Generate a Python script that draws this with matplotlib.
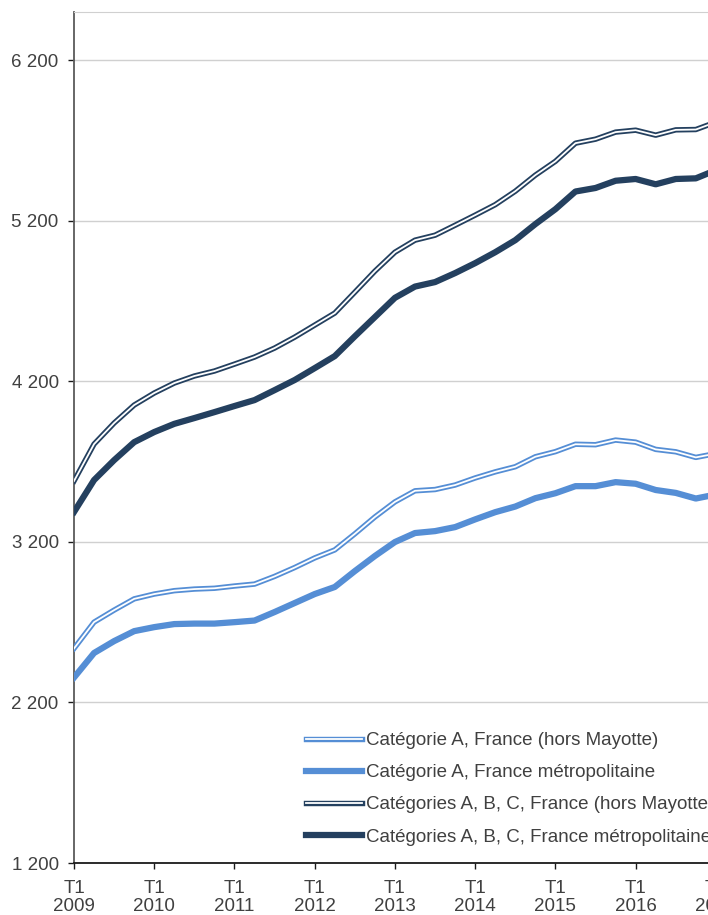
import matplotlib

matplotlib.use("Agg")
import matplotlib.pyplot as plt
import numpy as np
from matplotlib.lines import Line2D

# quarterly values, T1 2009 .. T1 2017 (thousands)
a_hors_mayotte = [2536, 2700, 2775, 2845, 2875, 2896, 2906, 2911, 2925, 2937, 2985,
                  3040, 3100, 3150, 3250, 3355, 3449, 3518, 3526, 3554, 3598, 3636,
                  3668, 3730, 3762, 3808, 3805, 3834, 3821, 3776, 3761, 3726, 3750]
a_metro = [2355, 2508, 2582, 2644, 2669, 2688, 2691, 2691, 2700, 2710, 2763,
           2819, 2875, 2919, 3018, 3112, 3199, 3255, 3267, 3292, 3340, 3385,
           3420, 3472, 3503, 3547, 3547, 3572, 3562, 3523, 3505, 3470, 3495]
abc_hors_mayotte = [3579, 3809, 3940, 4052, 4127, 4189, 4233, 4264, 4307, 4351, 4407,
                    4475, 4550, 4625, 4755, 4886, 5004, 5079, 5110, 5172, 5235, 5300,
                    5384, 5484, 5570, 5683, 5708, 5752, 5764, 5733, 5766, 5768, 5814]
abc_metro = [3386, 3585, 3709, 3821, 3884, 3935, 3971, 4008, 4046, 4083, 4145,
             4208, 4282, 4357, 4480, 4600, 4720, 4790, 4818, 4874, 4936, 5004,
             5079, 5179, 5272, 5382, 5404, 5449, 5460, 5427, 5460, 5464, 5515]

labels = [
    "Catégorie A, France (hors Mayotte)",
    "Catégorie A, France métropolitaine",
    "Catégories A, B, C, France (hors Mayotte)",
    "Catégories A, B, C, France métropolitaine",
]
years = list(range(2009, 2018))
tick_labels = [f"T1\n{y}" for y in years]
y_ticks = [1200, 2200, 3200, 4200, 5200, 6200]

LIGHT = "#558ed5"
DARK = "#24405f"
TEXT = "#404040"
FS = 13.5

plt.rcParams["font.family"] = ["Liberation Sans", "DejaVu Sans"]

fig = plt.figure(figsize=(7.08, 9.15), dpi=100)
ax = fig.add_axes([74 / 708, 52 / 915, 682 / 708, 851 / 915])

x = np.arange(len(a_metro))
OUTER, INNER, THICK = 3.9, 1.3, 4.5

ax.plot(x, a_hors_mayotte, color=LIGHT, lw=OUTER, zorder=3)
ax.plot(x, a_hors_mayotte, color="white", lw=INNER, zorder=4)
ax.plot(x, a_metro, color=LIGHT, lw=THICK, zorder=3)
ax.plot(x, abc_hors_mayotte, color=DARK, lw=OUTER, zorder=3)
ax.plot(x, abc_hors_mayotte, color="white", lw=INNER, zorder=4)
ax.plot(x, abc_metro, color=DARK, lw=THICK, zorder=3)

ax.set_xlim(0, 34)
ax.set_ylim(1200, 6500)
ax.set_xticks(np.arange(len(years)) * 4)
ax.set_xticklabels(tick_labels)
ax.set_yticks(y_ticks)
ax.set_yticklabels([f"{v // 1000} {v % 1000:03d}" for v in y_ticks])
ax.grid(axis="y", color="#d0d0d0", lw=1.0)
ax.set_axisbelow(True)

ax.spines["right"].set_visible(False)
ax.spines["top"].set_color("#d0d0d0")
ax.spines["left"].set_color("#5a5a5a")
ax.spines["left"].set_linewidth(1.3)
ax.spines["bottom"].set_color("#1a1a1a")
ax.spines["bottom"].set_linewidth(1.3)
ax.tick_params(axis="y", length=4, width=1.0, color="#1a1a1a", pad=7,
               labelsize=FS, labelcolor=TEXT)
ax.tick_params(axis="x", length=4, width=1.0, color="#1a1a1a", pad=8,
               labelsize=FS, labelcolor=TEXT)
for t in ax.get_xticklabels():
    t.set_linespacing(1.1)

handles = [
    (Line2D([], [], color=LIGHT, lw=OUTER), Line2D([], [], color="white", lw=INNER)),
    Line2D([], [], color=LIGHT, lw=THICK),
    (Line2D([], [], color=DARK, lw=OUTER), Line2D([], [], color="white", lw=INNER)),
    Line2D([], [], color=DARK, lw=THICK),
]
leg = fig.legend(handles, labels, loc="upper left",
                 bbox_to_anchor=(306 / 708, 1 - 732 / 915), frameon=False,
                 fontsize=FS, handlelength=3.0, handletextpad=0.2,
                 labelspacing=0.8, borderpad=0, borderaxespad=0)
for t in leg.get_texts():
    t.set_color(TEXT)

fig.savefig("out.png", dpi=100)
